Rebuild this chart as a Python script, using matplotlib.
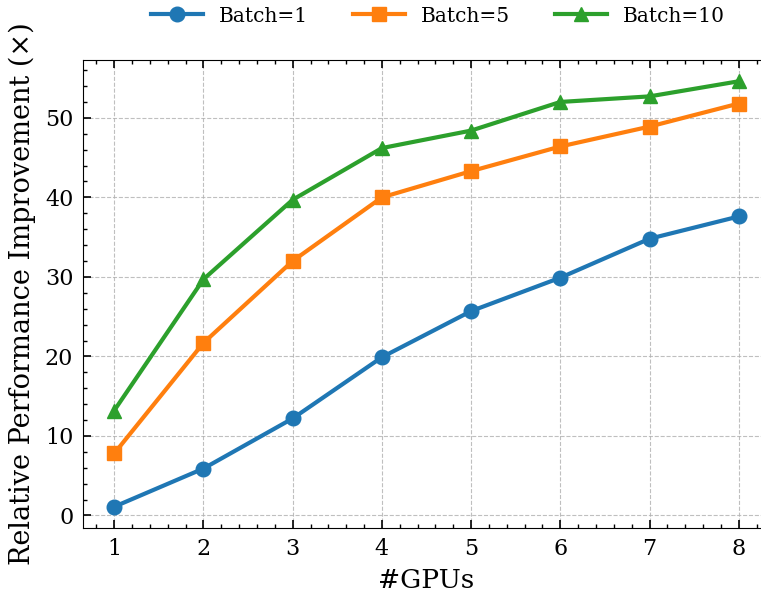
import numpy as np
import matplotlib.pyplot as plt
from matplotlib.ticker import AutoMinorLocator

gpus = [1, 2, 3, 4, 5, 6, 7, 8]
batch_labels = ["Batch=1", "Batch=5", "Batch=10"]
batch1 = [1.1, 5.9, 12.2, 19.9, 25.7, 29.9, 34.8, 37.6]
batch5 = [7.8, 21.7, 32.0, 40.0, 43.3, 46.4, 48.9, 51.8]
batch10 = [13.2, 29.7, 39.7, 46.2, 48.4, 52.0, 52.7, 54.6]

plt.rcParams['font.family'] = ['DejaVu Serif']
plt.rcParams['mathtext.fontset'] = 'dejavuserif'

fig = plt.figure(figsize=(7.61, 5.92), dpi=100)
# axes extends past the right edge like the reference crop
ax = fig.add_axes([83 / 761, 1 - 528 / 592, 687 / 761, 468 / 592])

series = [batch1, batch5, batch10]
markers = ['o', 's', '^']
colors = ['#1f77b4', '#ff7f0e', '#2ca02c']
for vals, lab, m, c in zip(series, batch_labels, markers, colors):
    ax.plot(gpus, vals, marker=m, color=c, label=lab, linewidth=3, markersize=10.5)

ax.set_xlabel("#GPUs", fontsize=19, labelpad=6)
ax.set_ylabel("Relative Performance Improvement (×)", fontsize=19.5, labelpad=6)
ax.set_xticks(gpus)
ax.xaxis.set_minor_locator(AutoMinorLocator(5))
ax.yaxis.set_minor_locator(AutoMinorLocator(5))
ax.tick_params(which='both', direction='in', top=True, right=True, labelsize=16)
ax.tick_params(which='major', length=6, width=1.2, pad=7)
ax.tick_params(which='minor', length=3, width=1.0)
ax.grid(True, linestyle='--', color='#b0b0b0', alpha=0.8, linewidth=0.8)

fig.legend(loc='center', bbox_to_anchor=(438 / 761, 1 - 16 / 592), ncol=3,
           frameon=False, fontsize=14.5, handlelength=2.6, columnspacing=2.2)

fig.savefig("out.png", dpi=100)
